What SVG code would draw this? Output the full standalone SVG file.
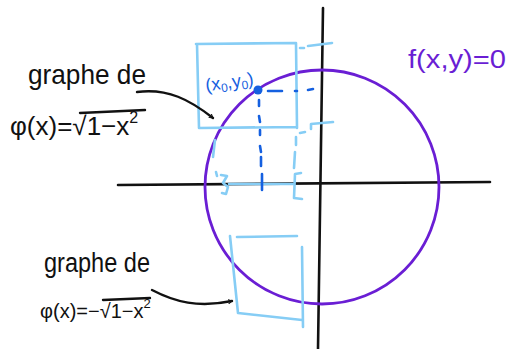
<svg xmlns="http://www.w3.org/2000/svg" width="514" height="349" viewBox="0 0 514 349">
<defs>
<style>
.ax{stroke:#111;stroke-width:2.6;fill:none;stroke-linecap:round}
.lb{stroke:#86cdf5;stroke-width:2.6;fill:none;stroke-linecap:round;stroke-linejoin:round}
.bl{stroke:#1560e0;stroke-width:2.6;fill:none;stroke-linecap:round}
.pu{stroke:#6a1ed4;stroke-width:2.8;fill:none}
.ar{stroke:#111;stroke-width:2.4;fill:none;stroke-linecap:round}
.hw{font-family:"Liberation Sans","DejaVu Sans",sans-serif;fill:#111}
</style>
<marker id="ah" viewBox="0 0 10 10" refX="8" refY="5" markerWidth="5" markerHeight="5" orient="auto" markerUnits="userSpaceOnUse">
<path d="M1,1 L8,5 L1,9" fill="none" stroke="#111" stroke-width="2" stroke-linecap="round"/>
</marker>
</defs>
<rect width="514" height="349" fill="#fff"/>
<g id="axes">
<path class="ax" d="M118,185 L490,182"/>
<path class="ax" d="M323,8 L318,349"/>
</g>
<g id="circle">
<circle class="pu" cx="322" cy="187" r="117"/>
</g>
<g id="upper-box">
<path class="lb" d="M196,44 L296,43 M197,44 L199,128 L297,127 M296,43 L297,128"/>
<path class="lb" d="M300,48 L304,48 M308,46 L332,43"/>
<path class="lb" d="M300,133 L305,132 M311,129 L311,124 L333,122"/>
<path class="lb" d="M296,137 L296,145 M295,152 L294,168"/>
<path class="lb" d="M301,173 L295,174 L294,198 L302,199"/>
<path class="lb" d="M215,140 L213,157"/>
<path class="lb" d="M216,172 L217,176 M221,175 L227,176 L223,183 L228,187 L226,194 L222,193"/>
<path class="lb" d="M229,184 L293,184"/>
</g>
<g id="lower-box">
<path class="lb" d="M237,237 L297,236 M230,236 L238,313 L302,320 M302,247 L303,327"/>
</g>
<g id="point">
<path class="bl" d="M268,91 L282,91 M295,91 L297,91 M308,90 L313,89"/>
<path class="bl" d="M259,100 L259,106 M259,116 L260,122 M260,130 L260,135 M260,146 L261,152 M261,157 L261,166 M262,174 L262,190"/>
<circle cx="258" cy="90" r="4.5" fill="#1560e0"/>
<text x="205" y="88" font-family="Liberation Sans,sans-serif" font-size="18" fill="#1560e0" transform="rotate(-8 230 80)">(x<tspan font-size="12" dy="3">0</tspan><tspan dy="-3">,y</tspan><tspan font-size="12" dy="3">0</tspan><tspan dy="-3">)</tspan></text>
</g>
<g id="eq-label">
<text x="408" y="68" font-family="Liberation Sans,sans-serif" font-size="26" fill="#6a1ed4" textLength="98" lengthAdjust="spacingAndGlyphs">f(x,y)=0</text>
</g>
<g id="label-upper">
<text class="hw" x="28" y="84" font-size="28" textLength="118" lengthAdjust="spacingAndGlyphs">graphe de</text>
<text class="hw" x="10" y="135" font-size="26">φ(x)=√<tspan>1−x</tspan><tspan font-size="16" dy="-12">2</tspan></text>
<path class="ar" d="M80,113 L145,110" stroke-width="1.8"/>
</g>
<g id="label-lower">
<text class="hw" x="44" y="272" font-size="27" textLength="106" lengthAdjust="spacingAndGlyphs">graphe de</text>
<text class="hw" x="40" y="318" font-size="20">φ(x)=−√<tspan>1−x</tspan><tspan font-size="13" dy="-10">2</tspan></text>
<path class="ar" d="M103,300 L150,298" stroke-width="1.6"/>
</g>
<g id="connectors">
<path class="ar" d="M137,92 C168,88 190,100 213,118" marker-end="url(#ah)"/>
<path class="ar" d="M152,290 C175,302 198,308 232,301" marker-end="url(#ah)"/>
</g>
</svg>
